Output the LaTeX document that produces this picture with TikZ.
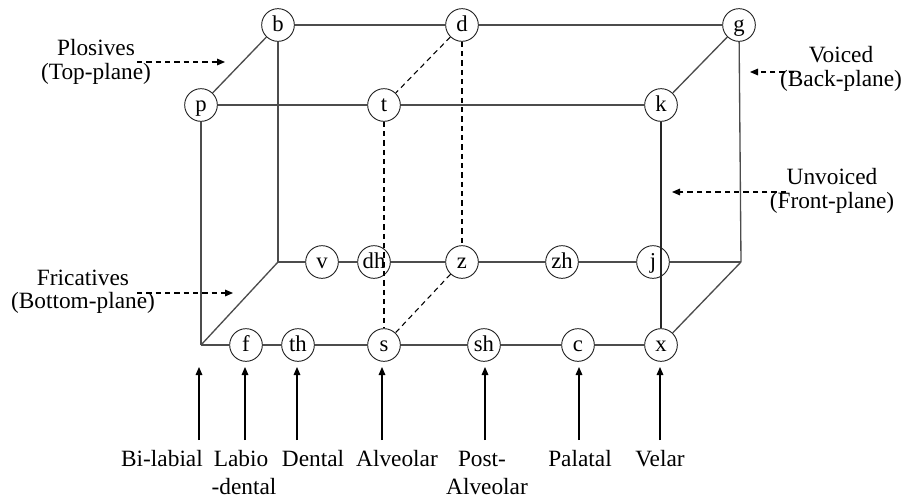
\documentclass[tikz,border=0pt]{standalone}
\usepackage{fontspec}
\setmainfont{Liberation Serif}
\usetikzlibrary{arrows.meta}
\begin{document}
\begin{tikzpicture}[x=0.75pt,y=-0.75pt,
  ph/.style={circle,draw=black!85,line width=0.7pt,minimum size=24.5pt,inner sep=0pt,text height=12pt,text depth=3pt,font=\fontsize{17}{18}\selectfont},
  edge/.style={draw=black!70,line width=1pt},
  dsh/.style={draw=black,line width=0.8pt,dash pattern=on 4pt off 3pt},
  lbl/.style={font=\fontsize{17.5}{18}\selectfont,inner sep=0pt},
  side/.style={font=\fontsize{17.5}{17.5}\selectfont,align=center,inner sep=0pt},
  uparr/.style={-{Triangle[length=6pt,width=5pt]},line width=0.8pt},
  sidearr/.style={-{Triangle[length=6pt,width=5pt]},line width=0.8pt,dash pattern=on 4pt off 3pt},
  ]
\useasboundingbox (0,0) rectangle (906,500);
% nodes
\node[ph] (b) at (278,25) {b};
\node[ph] (d) at (462,25) {d};
\node[ph] (g) at (739,25) {g};
\node[ph] (p) at (201,105) {p};
\node[ph] (t) at (384,105) {t};
\node[ph] (k) at (661,105) {k};
\node[ph] (v) at (322,262) {v};
\node[ph] (dh) at (374,262) {dh};
\node[ph] (z) at (462,262) {z};
\node[ph] (zh) at (562,262) {zh};
\node[ph] (j) at (653,262) {j};
\node[ph] (f) at (246,345) {f};
\node[ph] (th) at (298,345) {th};
\node[ph] (s) at (384,345) {s};
\node[ph] (sh) at (484,345) {sh};
\node[ph] (c) at (578,345) {c};
\node[ph] (x) at (661,345) {x};
\coordinate (FL) at (201,345);
\coordinate (BL) at (278,262);
\coordinate (BR) at (741,262);
% cube edges
\draw[edge] (b) -- (d) -- (g);
\draw[edge] (p) -- (t) -- (k);
\draw[edge] (b) -- (p);
\draw[edge] (g) -- (k);
\draw[dsh] (d) -- (t);
\draw[edge] (b) -- (BL);
\draw[edge] (g) -- (BR);
\draw[edge] (p) -- (FL);
\draw[edge] (BL) -- (v) -- (dh) -- (z) -- (zh) -- (j) -- (BR);
\draw[edge] (FL) -- (f) -- (th) -- (s) -- (sh) -- (c) -- (x);
\draw[edge] (FL) -- (BL);
\draw[edge] (x) -- (BR);
\draw[edge,draw=black!85] (k) -- (x);
\draw[dsh] (t) -- (s);
\draw[dsh] (d) -- (z);
\draw[dsh] (z) -- (s);
% side labels
\node[side] (plo) at (96,62) {Plosives\\(Top-plane)};
\coordinate (ploT) at (225,62);
\draw[sidearr] (137,62) -- (ploT);
\node[side] (voi) at (841,69) {Voiced\\(Back-plane)};
\coordinate (voiT) at (750,72);
\draw[sidearr] (794,72) -- (voiT);
\node[side] (unv) at (832,191) {Unvoiced\\(Front-plane)};
\coordinate (unvT) at (672,192);
\draw[sidearr] (786,192) -- (unvT);
\node[side] (fri) at (83,292) {Fricatives\\(Bottom-plane)};
\coordinate (friT) at (233,293);
\draw[sidearr] (137,293) -- (friT);
% bottom arrows
\foreach \n/\xx in {a1/199,a2/245,a3/297,a4/382,a5/485,a6/579,a7/660}{
  \coordinate (\n s) at (\xx,440);
  \coordinate (\n e) at (\xx,367);
  \draw[uparr] (\n s) -- (\n e);
}
% bottom labels
\node[lbl] (l1) at (162,459) {Bi-labial};
\node[lbl] (l2) at (241,459) {Labio};
\node[lbl] (l2b) at (244,487) {-dental};
\node[lbl] (l3) at (313,459) {Dental};
\node[lbl] (l4) at (397,459) {Alveolar};
\node[lbl] (l5) at (482,459) {Post-};
\node[lbl] (l5b) at (487,487) {Alveolar};
\node[lbl] (l6) at (580,459) {Palatal};
\node[lbl] (l7) at (660,459) {Velar};
\end{tikzpicture}
\end{document}
